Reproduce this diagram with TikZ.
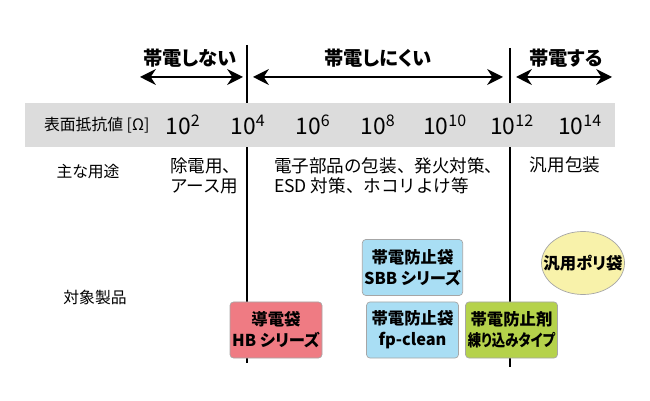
\documentclass[tikz,border=0pt]{standalone}
\usepackage{fontspec}
\setmainfont[RawFeature=+palt]{Noto Sans CJK JP}
\newfontfamily\fullwidth{Noto Sans CJK JP}
\usepackage{tikz}
\usetikzlibrary{arrows.meta,shapes.geometric}

\definecolor{bandgray}{HTML}{DCDCDC}
\definecolor{hbred}{HTML}{EF7B83}
\definecolor{sbbblue}{HTML}{A9DEF4}
\definecolor{mixgreen}{HTML}{B5D24B}
\definecolor{polyyellow}{HTML}{F8F2AA}

\begin{document}
\begin{tikzpicture}[
		every node/.style={inner sep=1pt},
		spanarrow/.style={{Stealth[length=9pt,width=9pt]}-{Stealth[length=9pt,width=9pt]}, line width=1pt},
		header/.style={font=\bfseries\fontsize{11}{13}\selectfont},
		expo/.style={font=\fontsize{13}{15}\selectfont},
		caption/.style={font=\fontsize{9}{11}\selectfont, align=left},
		usage/.style={font=\fullwidth\fontsize{10}{11.5}\selectfont, align=left},
		product/.style={draw=gray!70, rounded corners=2pt, minimum width=1.84cm, minimum height=1.12cm,
			align=center, font=\bfseries\fontsize{9.3}{12}\selectfont}
	]
  \useasboundingbox (0,0) rectangle (13,8);
  % boundary lines
  \coordinate (b1top) at (4.94, 7.1);
  \coordinate (b1bot) at (4.94, 0.74);
  \coordinate (b2top) at (10.2, 7.04);
  \coordinate (b2bot) at (10.2, 0.66);
  \draw[line width=1pt] (b1top) -- (b1bot);
  \draw[line width=1pt] (b2top) -- (b2bot);
  % resistance band
  \fill[bandgray] (0.5, 5.06) rectangle (12.3, 5.94);
  % ranges
  \coordinate (r1a) at (2.8, 6.46);
  \coordinate (r1b) at (4.86, 6.46);
  \coordinate (r2a) at (5.06, 6.46);
  \coordinate (r2b) at (10.06, 6.46);
  \coordinate (r3a) at (10.32, 6.46);
  \coordinate (r3b) at (12.24, 6.46);
  \draw[spanarrow] (r1a) -- (r1b);
  \draw[spanarrow] (r2a) -- (r2b);
  \draw[spanarrow] (r3a) -- (r3b);
  \node (h1) [header] at (3.8, 6.84) {帯電しない};
  \node (h2) [header] at (7.56, 6.84) {帯電しにくい};
  \node (h3) [header] at (11.32, 6.84) {帯電する};
  % scale
  \node (unit) [caption, anchor=west] at (0.84, 5.5) {表面抵抗値 [Ω]};
  \node (e2) [expo] at (3.66, 5.5) {10\textsuperscript{2}};
  \node (e4) [expo] at (4.96, 5.5) {10\textsuperscript{4}};
  \node (e6) [expo] at (6.26, 5.5) {10\textsuperscript{6}};
  \node (e8) [expo] at (7.56, 5.5) {10\textsuperscript{8}};
  \node (e10) [expo] at (8.9, 5.5) {10\textsuperscript{10}};
  \node (e12) [expo] at (10.24, 5.5) {10\textsuperscript{12}};
  \node (e14) [expo] at (11.6, 5.5) {10\textsuperscript{14}};
  % uses
  \node (uses) [caption] at (1.76, 4.56) {主な用途};
  \node (u1) [usage, anchor=west] at (3.36, 4.48) {除電用、\\アース用};
  \node (u2) [usage, anchor=west] at (5.44, 4.48) {電子部品の包装、発火対策、\\ESD 対策、ホコリよけ等};
  \node (u3) [usage] at (11.3, 4.7) {汎用包装};
  % products
  \node (prods) [caption] at (1.9, 2.06) {対象製品};
  \node (hb) [product, fill=hbred] at (5.52, 1.4) {導電袋\\HB シリーズ};
  \node (sbb) [product, fill=sbbblue] at (8.25, 2.65) {帯電防止袋\\SBB シリーズ};
  \node (fp) [product, fill=sbbblue] at (8.25, 1.4) {帯電防止袋\\fp-clean};
  \node (mix) [product, fill=mixgreen] at (10.23, 1.4) {帯電防止剤\\\scalebox{0.82}[1]{練り込みタイプ}};
  \coordinate (polyc) at (11.66, 2.74);
  \filldraw[draw=gray!70, fill=polyyellow] (polyc) ellipse [x radius=0.83cm, y radius=0.63cm];
  \node (poly) [font=\bfseries\fontsize{9.3}{12}\selectfont] at (polyc) {汎用ポリ袋};
\end{tikzpicture}
\end{document}
